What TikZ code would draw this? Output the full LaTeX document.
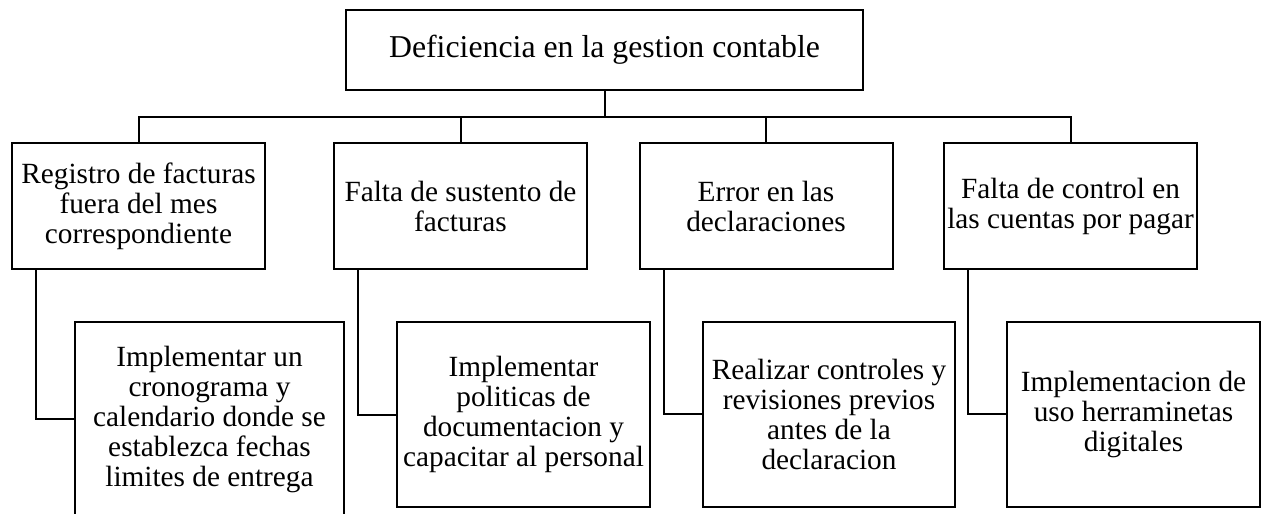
\documentclass[tikz,border=0pt]{standalone}
\usepackage{fontspec}
\setmainfont{Liberation Serif}
\begin{document}
\begin{tikzpicture}[x=1pt,y=-1pt,
  box/.style={draw=black,line width=2pt,inner sep=0pt,align=center,
    font=\fontsize{29.3}{30}\selectfont},
  lvlone/.style={box,minimum width=253pt,minimum height=126pt},
  lvltwo/.style={box,minimum width=253pt,minimum height=185pt},
  link/.style={draw=black,line width=2pt}]
\useasboundingbox (0,0) rectangle (1262,514);
\clip (0,0) rectangle (1262,514);
% root
\node[box,minimum width=517pt,minimum height=80pt,font=\fontsize{31.8}{33}\selectfont] (root) at (604.5,50) {Deficiencia en la gestion contable};
% level one
\node[lvlone] (a) at (138.5,206) {Registro de facturas\\fuera del mes\\correspondiente};
\node[lvlone] (b) at (460.5,206) {Falta de sustento de\\facturas};
\node[lvlone] (c) at (766,206) {Error en las\\declaraciones};
\node[lvlone] (d) at (1070.5,206) {Falta de control en\\las cuentas por pagar};
% level two
\node[lvltwo,minimum width=269pt,minimum height=194pt] (a2) at (209.5,419) {Implementar un\\cronograma y\\calendario donde se\\establezca fechas\\limites de entrega};
\node[lvltwo] (b2) at (523.5,414.5) {Implementar\\politicas de\\documentacion y\\capacitar al personal};
\node[lvltwo,minimum width=252pt] (c2) at (829,414) {Realizar controles y\\revisiones previos\\antes de la\\declaracion};
\node[lvltwo] (d2) at (1133.5,414) {Implementacion de\\uso herraminetas\\digitales};
% bus
\coordinate (bus) at (604.5,117);
\draw[link] (root.south) -- (bus);
\draw[link] (a.north) -- (a.north |- bus) -- (d.north |- bus) -- (d.north);
\draw[link] (b.north |- bus) -- (b.north);
\draw[link] (c.north |- bus) -- (c.north);
% links to level two
\draw[link] ([xshift=25pt]a.south west) |- (a2.west);
\draw[link] ([xshift=25pt]b.south west) |- (b2.west);
\draw[link] ([xshift=25pt]c.south west) |- (c2.west);
\draw[link] ([xshift=25pt]d.south west) |- (d2.west);
\end{tikzpicture}
\end{document}
